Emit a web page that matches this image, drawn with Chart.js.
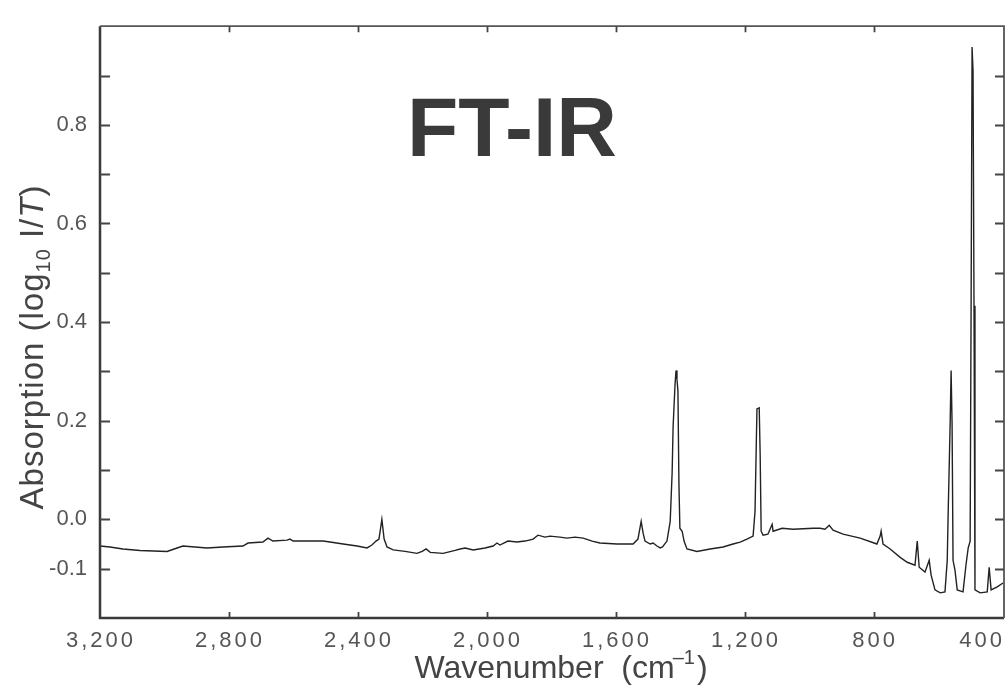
<!DOCTYPE html>
<html><head><meta charset="utf-8">
<script src="https://cdn.jsdelivr.net/npm/chart.js@4.4.1/dist/chart.umd.min.js"></script>
<style>html,body{margin:0;padding:0;background:#fff;}#wrap{width:1008px;height:687px;}</style>
</head><body><div id="wrap"><canvas id="c" width="1008" height="687"></canvas></div>
<script>
const wavenumbers = [3200,3169,3129,3076,2992,2961,2943,2868,2819,2757,2741,2695,2679,2664,2620,2611,2601,2508,2487,2446,2403,2372,2357,2344,2335,2326,2319,2310,2291,2254,2217,2201,2189,2176,2136,2099,2083,2068,2043,2006,1981,1969,1960,1935,1907,1882,1857,1842,1820,1805,1774,1752,1727,1702,1674,1650,1597,1557,1547,1532,1522,1516,1510,1494,1485,1473,1463,1456,1442,1432,1426,1423,1417,1414,1411,1408,1405,1402,1395,1389,1380,1349,1308,1268,1237,1215,1194,1175,1169,1163,1156,1153,1150,1144,1129,1116,1113,1085,1051,989,967,952,939,927,896,843,791,781,778,772,750,719,697,673,666,660,642,629,623,611,595,580,573,570,564,561,558,555,549,542,524,515,508,502,499,496,493,490,487,471,449,443,437,418,400];
const absorbance = [-0.054,-0.056,-0.060,-0.063,-0.065,-0.058,-0.054,-0.058,-0.056,-0.054,-0.048,-0.046,-0.038,-0.044,-0.042,-0.040,-0.044,-0.044,-0.046,-0.050,-0.054,-0.058,-0.052,-0.044,-0.040,0.000,-0.040,-0.056,-0.062,-0.065,-0.069,-0.065,-0.060,-0.067,-0.069,-0.063,-0.060,-0.058,-0.062,-0.058,-0.054,-0.048,-0.052,-0.044,-0.046,-0.044,-0.040,-0.032,-0.036,-0.034,-0.036,-0.038,-0.036,-0.038,-0.044,-0.048,-0.050,-0.050,-0.050,-0.040,-0.004,-0.028,-0.044,-0.050,-0.048,-0.054,-0.058,-0.056,-0.044,-0.004,0.095,0.188,0.274,0.302,0.284,0.260,0.075,-0.018,-0.024,-0.044,-0.060,-0.065,-0.060,-0.056,-0.050,-0.046,-0.040,-0.034,0.016,0.224,0.226,0.129,-0.024,-0.032,-0.030,-0.010,-0.024,-0.018,-0.020,-0.018,-0.018,-0.020,-0.012,-0.022,-0.030,-0.038,-0.050,-0.034,-0.024,-0.050,-0.060,-0.077,-0.087,-0.093,-0.044,-0.097,-0.107,-0.083,-0.113,-0.143,-0.149,-0.147,-0.083,0.016,0.194,0.302,0.194,-0.083,-0.103,-0.143,-0.147,-0.093,-0.058,-0.044,0.433,0.958,0.909,0.433,-0.143,-0.149,-0.147,-0.097,-0.143,-0.137,-0.129];
const xTickValues = [3200,2800,2400,2000,1600,1200,800,400];
const xTickLabels = ['3,200','2,800','2,400','2,000','1,600','1,200','800','400'];
const yTickValues = [0.8,0.6,0.4,0.2,0.0,-0.1];
const yTickLabels = ['0.8','0.6','0.4','0.2','0.0','-0.1'];
const chartTitle = 'FT-IR';

const FONT = "'Liberation Sans', Arial, sans-serif";

const decor = {
  id: 'decor',
  afterDatasetsDraw(chart) {
    const ctx = chart.ctx, a = chart.chartArea;
    const xs = chart.scales.x, ys = chart.scales.y;
    ctx.save();
    // frame
    ctx.strokeStyle = '#3a3a3a';
    ctx.lineWidth = 2.5;
    ctx.beginPath();
    ctx.moveTo(a.left, a.top); ctx.lineTo(a.left, a.bottom); ctx.lineTo(a.right, a.bottom);
    ctx.stroke();
    ctx.strokeStyle = '#555';
    ctx.lineWidth = 1.8;
    ctx.beginPath();
    ctx.moveTo(a.left, a.top); ctx.lineTo(a.right, a.top); ctx.lineTo(a.right, a.bottom);
    ctx.stroke();
    // inward ticks
    ctx.strokeStyle = '#444';
    ctx.lineWidth = 1.8;
    ctx.beginPath();
    ys.ticks.forEach(t => {
      const py = Math.round(ys.getPixelForValue(t.value)) + 0.5;
      if (py <= a.top + 2 || py >= a.bottom - 2) return;
      ctx.moveTo(a.left, py); ctx.lineTo(a.left + 10, py);
      ctx.moveTo(a.right, py); ctx.lineTo(a.right - 9, py);
    });
    xTickValues.forEach(v => {
      const px = Math.round(xs.getPixelForValue(v)) + 0.5;
      if (px <= a.left + 2 || px >= a.right - 2) return;
      ctx.moveTo(px, a.bottom); ctx.lineTo(px, a.bottom - 6);
      ctx.moveTo(px, a.top); ctx.lineTo(px, a.top + 6);
    });
    ctx.stroke();
    // x tick labels
    ctx.fillStyle = '#555';
    ctx.font = '22px ' + FONT;
    ctx.textBaseline = 'middle';
    try { ctx.letterSpacing = '3px'; } catch (e) {}
    xTickValues.forEach((v, i) => {
      const px = xs.getPixelForValue(v);
      if (i === xTickValues.length - 1) { ctx.textAlign = 'right'; ctx.fillText(xTickLabels[i], px + 2, 641); }
      else { ctx.textAlign = 'center'; ctx.fillText(xTickLabels[i], px + 1, 641); }
    });
    try { ctx.letterSpacing = '0px'; } catch (e) {}
    // x axis title with superscript
    ctx.fillStyle = '#444';
    ctx.textBaseline = 'alphabetic';
    ctx.textAlign = 'left';
    const big = '32px ' + FONT, small = '20px ' + FONT;
    const p1 = 'Wavenumber  (cm', p2 = '\u20131', p3 = ')';
    ctx.font = big; const w1 = ctx.measureText(p1).width, w3 = ctx.measureText(p3).width;
    ctx.font = small; const w2 = ctx.measureText(p2).width;
    let x0 = 561 - (w1 + w2 + w3) / 2, by = 678;
    ctx.font = big; ctx.fillText(p1, x0, by);
    ctx.font = small; ctx.fillText(p2, x0 + w1 - 2, by - 14);
    ctx.font = big; ctx.fillText(p3, x0 + w1 + w2, by);
    // y axis title with subscript and italic T
    ctx.save();
    ctx.translate(43, 347);
    ctx.rotate(-Math.PI / 2);
    try { ctx.letterSpacing = '1px'; } catch (e) {}
    const parts = [
      {t: 'Absorption (log', f: '33px ' + FONT, dy: 0},
      {t: '10', f: '20px ' + FONT, dy: 7},
      {t: ' I/', f: '33px ' + FONT, dy: 0},
      {t: 'T', f: 'italic 33px ' + FONT, dy: 0},
      {t: ')', f: '33px ' + FONT, dy: 0}
    ];
    let tw = 0;
    parts.forEach(p => { ctx.font = p.f; p.w = ctx.measureText(p.t).width; tw += p.w; });
    let cx = -tw / 2;
    parts.forEach(p => { ctx.font = p.f; ctx.fillText(p.t, cx, p.dy); cx += p.w; });
    try { ctx.letterSpacing = '0px'; } catch (e) {}
    ctx.restore();
    // big title inside plot
    ctx.fillStyle = '#3a3a3a';
    ctx.font = 'bold 84px ' + FONT;
    ctx.textAlign = 'center';
    ctx.textBaseline = 'alphabetic';
    ctx.fillText(chartTitle, 512, 156);
    ctx.restore();
  }
};

new Chart(document.getElementById('c'), {
  type: 'line',
  data: {
    datasets: [{
      data: wavenumbers.map((w, i) => ({x: w, y: absorbance[i]})),
      borderColor: '#222',
      borderWidth: 1.4,
      pointRadius: 0,
      tension: 0,
      fill: false
    }]
  },
  options: {
    responsive: false,
    animation: false,
    devicePixelRatio: 1,
    layout: {padding: {top: 15, right: 4, left: 0, bottom: 0}},
    plugins: {legend: {display: false}, tooltip: {enabled: false}},
    scales: {
      x: {
        type: 'linear', reverse: true, min: 397, max: 3200,
        ticks: {display: false},
        grid: {display: false, drawTicks: false},
        border: {display: false},
        afterFit(s) { s.height = 69; }
      },
      y: {
        min: -0.2, max: 1.0,
        ticks: {
          stepSize: 0.1, padding: 13, color: '#555',
          font: {family: FONT, size: 22},
          callback(v) {
            const i = yTickValues.findIndex(t => Math.abs(t - v) < 1e-6);
            return i >= 0 ? yTickLabels[i] : '';
          }
        },
        grid: {display: false, drawTicks: false},
        border: {display: false},
        afterFit(s) { s.width = 100; }
      }
    }
  },
  plugins: [decor]
});
</script>
</body></html>
